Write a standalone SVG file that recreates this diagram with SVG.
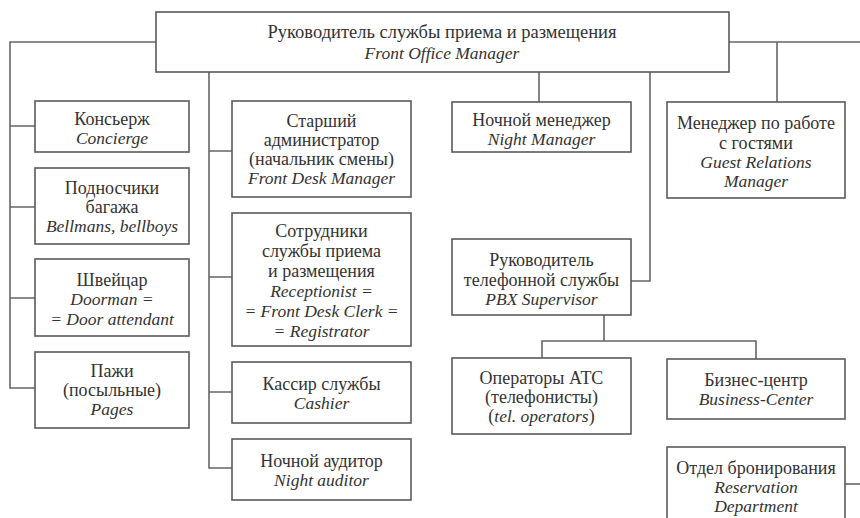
<svg xmlns="http://www.w3.org/2000/svg" width="860" height="518" viewBox="0 0 860 518">
  <style>
    .bg { fill: #ffffff; }
    .box { fill: #ffffff; stroke: #5a5a5a; stroke-width: 1.6; }
    .wire { fill: none; stroke: #666666; stroke-width: 1.6; }
    text { font-family: "Liberation Serif", "Times New Roman", serif; fill: #333333; text-anchor: middle; }
    .r { font-size: 18px; }
    .i { font-size: 17.5px; font-style: italic; }
  </style>

  <rect class="bg" x="0" y="0" width="860" height="518"/>

  <!-- connectors -->
  <g id="connectors">
    <!-- left branch: guest service staff -->
    <path class="wire" d="M156,42 H10 V388 H35 M10,126 H35 M10,207 H35 M10,298 H35"/>
    <!-- front desk branch -->
    <path class="wire" d="M209,72 V468 H232 M209,151 H232 M209,277 H232 M209,392 H232"/>
    <!-- night manager -->
    <path class="wire" d="M539,72 V102"/>
    <!-- PBX supervisor -->
    <path class="wire" d="M650,72 V281 H631"/>
    <!-- right branch: guest relations and beyond -->
    <path class="wire" d="M729,42 H860 M777,42 V102"/>
    <!-- PBX subordinates -->
    <path class="wire" d="M604,315 V341 M542,358 V341 H756 V359"/>
    <!-- reservation department -->
    <path class="wire" d="M845,484 H860"/>
  </g>

  <g id="front-office-manager">
    <rect class="box" x="156" y="12" width="573" height="60"/>
    <text class="r" x="442" y="38" style="font-size:18.5px">Руководитель службы приема и размещения</text>
    <text class="i" x="442" y="59">Front Office Manager</text>
  </g>

  <g id="concierge">
    <rect class="box" x="35" y="101" width="154" height="51"/>
    <text class="r" x="112" y="125">Консьерж</text>
    <text class="i" x="112" y="144">Concierge</text>
  </g>

  <g id="bellmans">
    <rect class="box" x="35" y="168" width="154" height="76"/>
    <text class="r" x="112" y="194">Подносчики</text>
    <text class="r" x="112" y="213">багажа</text>
    <text class="i" x="112" y="232">Bellmans, bellboys</text>
  </g>

  <g id="doorman">
    <rect class="box" x="35" y="259" width="154" height="77"/>
    <text class="r" x="112" y="286">Швейцар</text>
    <text class="i" x="112" y="305">Doorman =</text>
    <text class="i" x="112" y="325">= Door attendant</text>
  </g>

  <g id="pages">
    <rect class="box" x="35" y="352" width="154" height="76"/>
    <text class="r" x="112" y="377">Пажи</text>
    <text class="r" x="112" y="396">(посыльные)</text>
    <text class="i" x="112" y="415">Pages</text>
  </g>

  <g id="front-desk-manager">
    <rect class="box" x="232" y="101" width="179" height="96"/>
    <text class="r" x="321.5" y="127">Старший</text>
    <text class="r" x="321.5" y="146">администратор</text>
    <text class="r" x="321.5" y="165">(начальник смены)</text>
    <text class="i" x="321.5" y="184">Front Desk Manager</text>
  </g>

  <g id="receptionist">
    <rect class="box" x="232" y="213" width="179" height="133"/>
    <text class="r" x="321.5" y="237">Сотрудники</text>
    <text class="r" x="321.5" y="257">службы приема</text>
    <text class="r" x="321.5" y="277">и размещения</text>
    <text class="i" x="321.5" y="297">Receptionist =</text>
    <text class="i" x="321.5" y="317">= Front Desk Clerk =</text>
    <text class="i" x="321.5" y="337">= Registrator</text>
  </g>

  <g id="cashier">
    <rect class="box" x="232" y="362" width="179" height="61"/>
    <text class="r" x="321.5" y="390">Кассир службы</text>
    <text class="i" x="321.5" y="409">Cashier</text>
  </g>

  <g id="night-auditor">
    <rect class="box" x="232" y="439" width="179" height="61"/>
    <text class="r" x="321.5" y="467">Ночной аудитор</text>
    <text class="i" x="321.5" y="486">Night auditor</text>
  </g>

  <g id="night-manager">
    <rect class="box" x="452" y="102" width="179" height="50"/>
    <text class="r" x="541.5" y="126">Ночной менеджер</text>
    <text class="i" x="541.5" y="145">Night Manager</text>
  </g>

  <g id="guest-relations">
    <rect class="box" x="667" y="102" width="178" height="96"/>
    <text class="r" x="756" y="129">Менеджер по работе</text>
    <text class="r" x="756" y="149">с гостями</text>
    <text class="i" x="756" y="168">Guest Relations</text>
    <text class="i" x="756" y="187">Manager</text>
  </g>

  <g id="pbx-supervisor">
    <rect class="box" x="452" y="239" width="179" height="76"/>
    <text class="r" x="541.5" y="266">Руководитель</text>
    <text class="r" x="541.5" y="286">телефонной службы</text>
    <text class="i" x="541.5" y="305">PBX Supervisor</text>
  </g>

  <g id="tel-operators">
    <rect class="box" x="452" y="358" width="179" height="76"/>
    <text class="r" x="541.5" y="384">Операторы АТС</text>
    <text class="r" x="541.5" y="403">(телефонисты)</text>
    <text class="r" x="541.5" y="422">(<tspan font-style="italic" font-size="17.5">tel. operators</tspan>)</text>
  </g>

  <g id="business-center">
    <rect class="box" x="667" y="359" width="178" height="60"/>
    <text class="r" x="756" y="386">Бизнес-центр</text>
    <text class="i" x="756" y="405">Business-Center</text>
  </g>

  <g id="reservation">
    <rect class="box" x="667" y="447" width="178" height="76"/>
    <text class="r" x="756" y="474">Отдел бронирования</text>
    <text class="i" x="756" y="493">Reservation</text>
    <text class="i" x="756" y="512">Department</text>
  </g>
</svg>
